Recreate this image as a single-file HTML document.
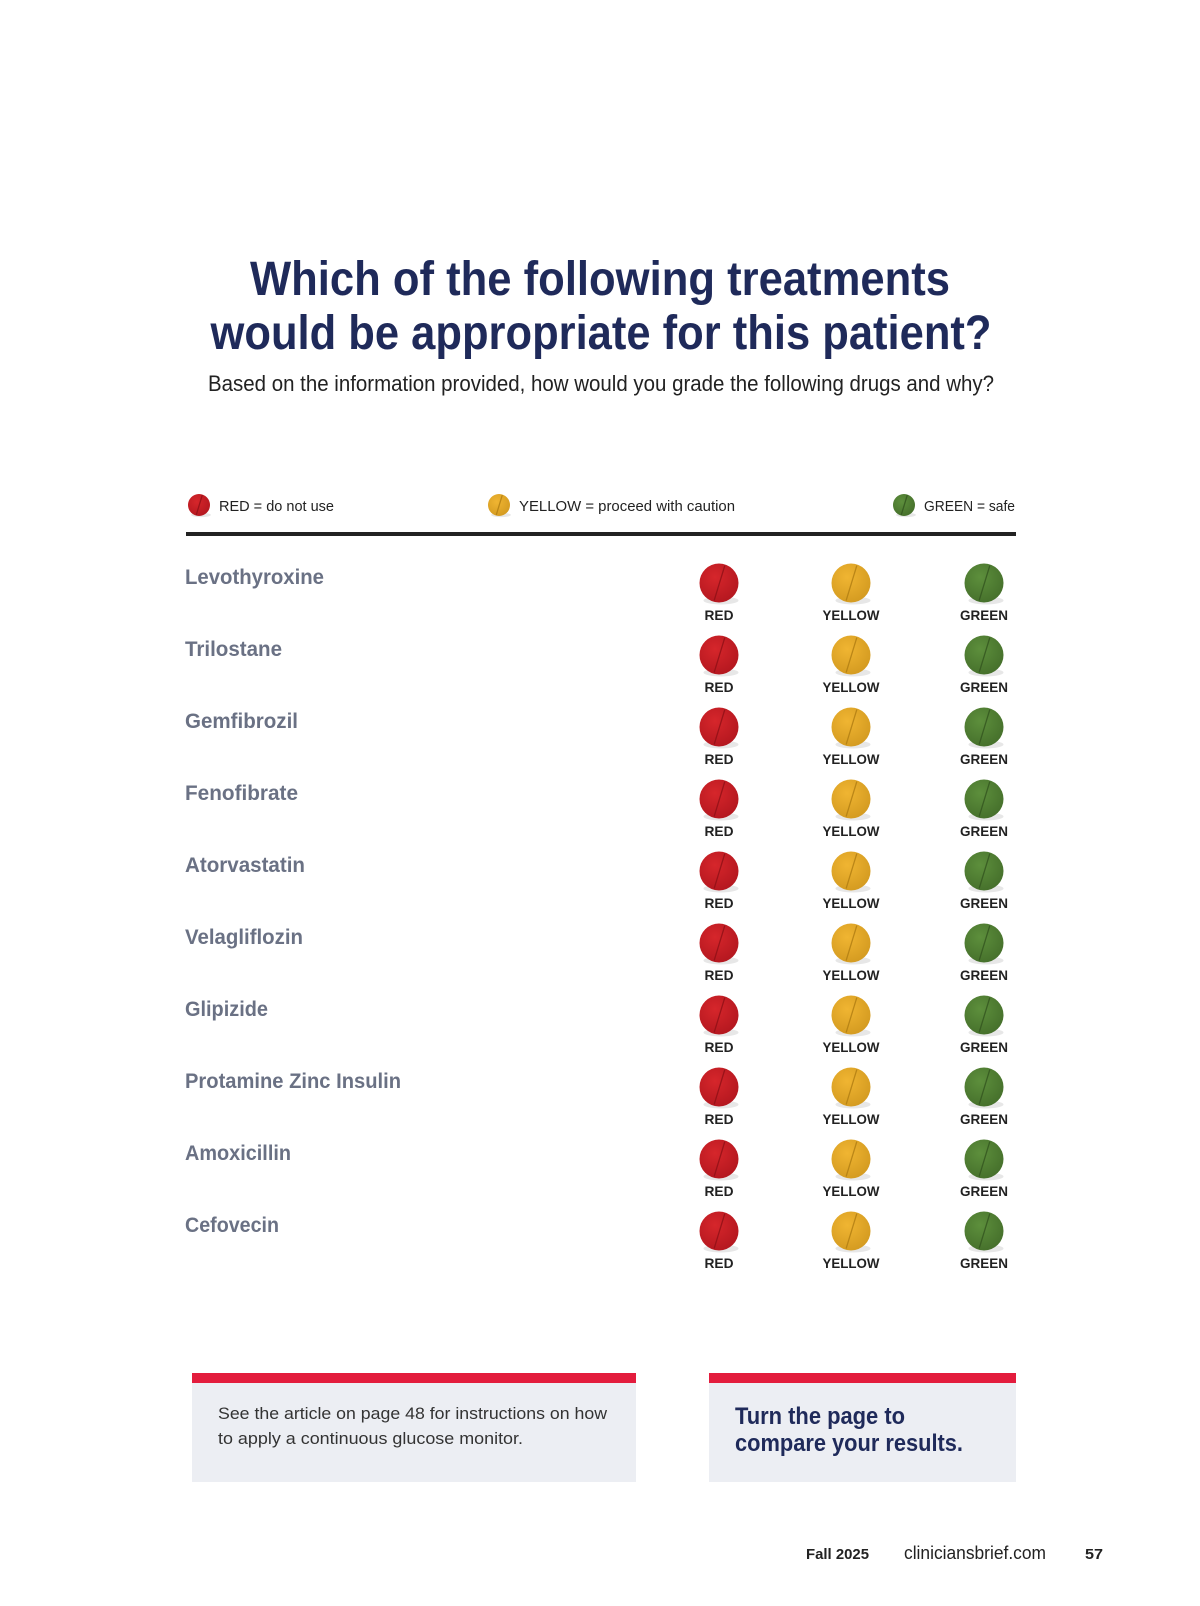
<!DOCTYPE html>
<html><head><meta charset="utf-8"><style>
html,body{margin:0;padding:0;background:#fff;}
svg{display:block;font-family:"Liberation Sans",sans-serif;}
</style></head><body>
<svg id="page" width="1200" height="1606" viewBox="0 0 1200 1606">
<defs>
<radialGradient id="gr" cx="0.4" cy="0.35" r="0.7"><stop offset="0" stop-color="#d6262b"/><stop offset="1" stop-color="#b3171f"/></radialGradient>
<radialGradient id="gy" cx="0.4" cy="0.35" r="0.7"><stop offset="0" stop-color="#f0b532"/><stop offset="1" stop-color="#d39a20"/></radialGradient>
<radialGradient id="gg" cx="0.4" cy="0.35" r="0.7"><stop offset="0" stop-color="#5d8f3c"/><stop offset="1" stop-color="#456f2b"/></radialGradient>
</defs>
<g fill="#1f2a5a" font-weight="bold" font-size="48" text-anchor="middle">
<text x="600" y="295" textLength="700" lengthAdjust="spacingAndGlyphs">Which of the following treatments</text>
<text x="601" y="349" textLength="781" lengthAdjust="spacingAndGlyphs">would be appropriate for this patient?</text>
</g>
<text x="601" y="391" font-size="22" fill="#222" text-anchor="middle" textLength="786" lengthAdjust="spacingAndGlyphs">Based on the information provided, how would you grade the following drugs and why?</text>
<g id="legend" font-size="15" fill="#222"></g>
<rect x="186" y="532" width="830" height="4" fill="#222"/>
<g id="rows"></g>
<g>
<rect x="192" y="1373" width="444" height="109" fill="#eceef3"/>
<rect x="192" y="1373" width="444" height="10" fill="#e31c3d"/>
<text x="218" y="1419" font-size="17" fill="#333" textLength="389" lengthAdjust="spacingAndGlyphs">See the article on page 48 for instructions on how</text>
<text x="218" y="1444" font-size="17" fill="#333" textLength="305" lengthAdjust="spacingAndGlyphs">to apply a continuous glucose monitor.</text>
</g>
<g>
<rect x="709" y="1373" width="307" height="109" fill="#eceef3"/>
<rect x="709" y="1373" width="307" height="10" fill="#e31c3d"/>
<text x="735" y="1424" font-size="24" font-weight="bold" fill="#1f2a5a" textLength="170" lengthAdjust="spacingAndGlyphs">Turn the page to</text>
<text x="735" y="1451" font-size="24" font-weight="bold" fill="#1f2a5a" textLength="228" lengthAdjust="spacingAndGlyphs">compare your results.</text>
</g>
<g fill="#222">
<text x="806" y="1559" font-size="15" font-weight="bold" textLength="63" lengthAdjust="spacingAndGlyphs">Fall 2025</text>
<text x="904" y="1559" font-size="18" textLength="142" lengthAdjust="spacingAndGlyphs">cliniciansbrief.com</text>
<text x="1085" y="1559" font-size="15" font-weight="bold" textLength="18" lengthAdjust="spacingAndGlyphs">57</text>
</g>
</svg>
<script>
const drugs = ["Levothyroxine","Trilostane","Gemfibrozil","Fenofibrate","Atorvastatin","Velagliflozin","Glipizide","Protamine Zinc Insulin","Amoxicillin","Cefovecin"];
const nameWidths = [139,97,113,113,120,118,83,216,106,94];
const grades = ["RED","YELLOW","GREEN"];
const legendLabels = ["RED = do not use","YELLOW = proceed with caution","GREEN = safe"];

const NS="http://www.w3.org/2000/svg";
function mk(tag, attrs, parent){const e=document.createElementNS(NS,tag);for(const k in attrs)e.setAttribute(k,attrs[k]);parent.appendChild(e);return e;}
const fills={RED:"url(#gr)",YELLOW:"url(#gy)",GREEN:"url(#gg)"};
const grooves={RED:"#8f1016",YELLOW:"#b07d12",GREEN:"#33551f"};
function pill(parent,cx,cy,r,g){
  const grp=mk("g",{},parent);
  mk("ellipse",{cx:cx+2,cy:cy+r*0.9,rx:r*0.9,ry:r*0.2,fill:"#ddd",opacity:0.7},grp);
  mk("circle",{cx:cx,cy:cy,r:r,fill:fills[g]},grp);
  mk("line",{x1:cx+r*0.3,y1:cy-r*0.9,x2:cx-r*0.25,y2:cy+r*0.9,stroke:grooves[g],"stroke-width":1.3,opacity:0.8},grp);
  return grp;
}
const legend=document.getElementById("legend");
const legX=[199,499,904], legW=[115,216,91];
grades.forEach((g,i)=>{
  const p=pill(legend,legX[i],505,11,g);
  
  
  const t=mk("text",{x:legX[i]+20,y:511,textLength:legW[i],lengthAdjust:"spacingAndGlyphs"},legend);
  t.textContent=legendLabels[i];
  
  
});
const rows=document.getElementById("rows");
const colX=[719,851,984];
const labelW=[29,57,48];
drugs.forEach((d,i)=>{
  const y0=i*72;
  const row=mk("g",{},rows);
  
  
  const n=mk("text",{x:185,y:584+y0,"font-size":21,"font-weight":"bold",fill:"#6a7184",textLength:nameWidths[i],lengthAdjust:"spacingAndGlyphs"},row);
  n.textContent=d;
  
  
  grades.forEach((g,j)=>{
    const p=pill(row,colX[j],583+y0,19.5,g);
    
    
    const t=mk("text",{x:colX[j],y:620+y0,"font-size":14,"font-weight":"bold",fill:"#222","text-anchor":"middle",textLength:labelW[j],lengthAdjust:"spacingAndGlyphs"},row);
    t.textContent=g;
    
    
  });
});
</script>
</body></html>
